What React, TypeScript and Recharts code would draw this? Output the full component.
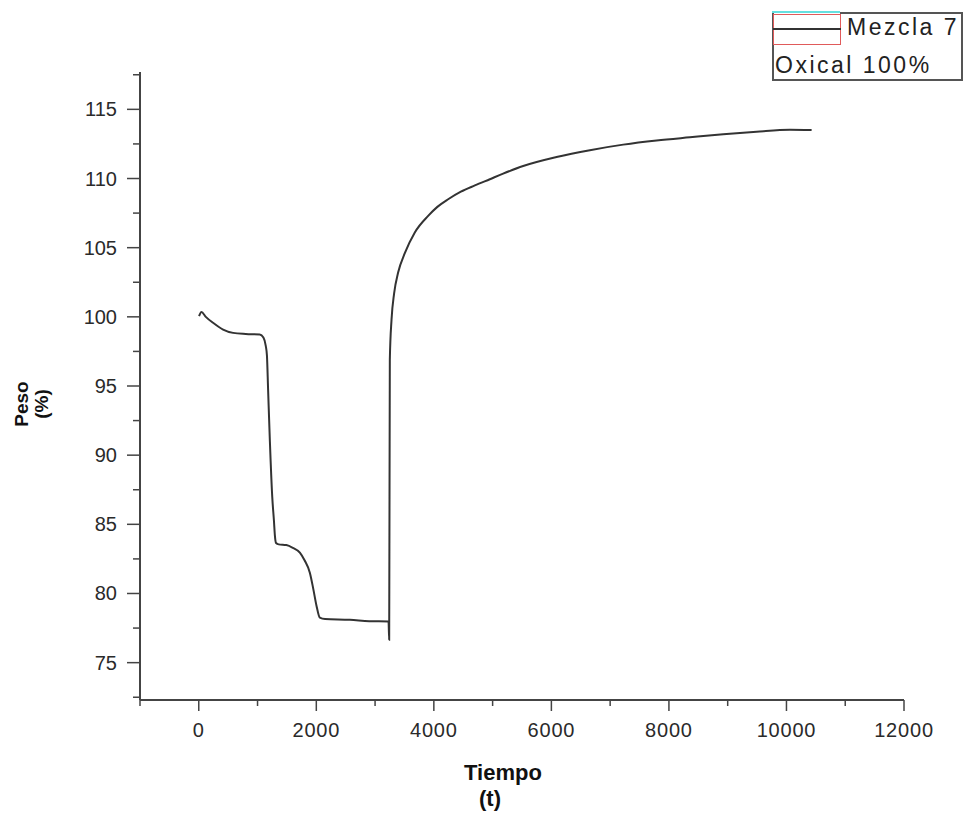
import { LineChart, Line, XAxis, YAxis, Legend, Label } from "recharts";

// tiempo (t) y peso (%)
const tiempo = [
	5, 45, 120, 243, 414, 584, 800, 1038, 1100, 1140, 1160, 1180, 1210, 1250, 1280, 1295,
	1315, 1360, 1490, 1600, 1720, 1800, 1890, 1950, 2004, 2060, 2150, 2570, 2900, 3229, 3240,
	3251, 3280, 3324, 3392, 3506, 3676, 3903, 4060, 4243, 4460, 4698, 4953, 5179, 5520, 6088,
	6655, 7222, 7790, 8357, 8924, 9492, 10059, 10428,
];
const peso = [
	100.05, 100.35, 100.0, 99.57, 99.08, 98.84, 98.76, 98.72, 98.5, 97.9, 97.2, 94.7, 91.0,
	87.0, 85.2, 84.2, 83.65, 83.55, 83.5, 83.3, 82.95, 82.4, 81.5, 80.3, 79.1, 78.25, 78.15,
	78.1, 78.0, 77.97, 76.65, 96.9, 99.8, 101.7, 103.2, 104.6, 106.1, 107.3, 107.95, 108.5,
	109.05, 109.5, 109.95, 110.35, 110.9, 111.55, 112.05, 112.45, 112.75, 112.98, 113.2,
	113.38, 113.52, 113.5,
];

const xTicks = [-1000, 0, 1000, 2000, 3000, 4000, 5000, 6000, 7000, 8000, 9000, 10000, 11000, 12000];
const yTicks = [72.5, 75, 77.5, 80, 82.5, 85, 87.5, 90, 92.5, 95, 97.5, 100, 102.5, 105, 107.5, 110, 112.5, 115, 117.5];
const legendLabels = ["Mezcla 7", "Oxical 100%"];

const data = tiempo.map((t, i) => ({ t, peso: peso[i] }));

const FONT = "'Liberation Sans', Arial, sans-serif";
const AXIS = "#444";

const YTick = (props: any) => {
	const { x, y, payload } = props;
	const major = payload.value % 5 === 0;
	return (
		<g>
			<line x1={x} x2={x - (major ? 13 : 7)} y1={y} y2={y} stroke={AXIS} strokeWidth={1.5} />
			{major && (
				<text x={x - 23} y={y} dy={7} textAnchor="end" fontFamily={FONT} fontSize={20} fill="#2a2a2a">
					{payload.value}
				</text>
			)}
		</g>
	);
};

const XTick = (props: any) => {
	const { x, y, payload } = props;
	const major = payload.value % 2000 === 0;
	return (
		<g>
			<line x1={x} x2={x} y1={y} y2={y + (major ? 11 : 6)} stroke={AXIS} strokeWidth={1.5} />
			{major && (
				<text x={x} y={y + 37} textAnchor="middle" fontFamily={FONT} fontSize={20} letterSpacing={0.8} fill="#2a2a2a">
					{payload.value}
				</text>
			)}
		</g>
	);
};

const LegendBox = () => (
	<div style={{ position: "relative", width: 194, height: 72, fontFamily: FONT, fontSize: 23, lineHeight: "23px", color: "#222" }}>
		<div style={{ position: "absolute", left: 1, top: 2, width: 191, height: 68, boxSizing: "border-box", borderLeft: "2px solid #555", borderRight: "2px solid #555", borderBottom: "2px solid #555" }} />
		<div style={{ position: "absolute", left: 69, top: 1, width: 123, height: 2, background: "#555" }} />
		<div style={{ position: "absolute", left: 1, top: 0, width: 68, height: 2, background: "#66e0e0" }} />
		<div style={{ position: "absolute", left: 2, top: 3, width: 68, height: 31, boxSizing: "border-box", border: "1.5px solid #e05a5a" }} />
		<div style={{ position: "absolute", left: 2, top: 17, width: 68, height: 2, background: "#333" }} />
		<div style={{ position: "absolute", left: 76, top: 5, letterSpacing: 2.5, whiteSpace: "nowrap" }}>{legendLabels[0]}</div>
		<div style={{ position: "absolute", left: 4, top: 43, letterSpacing: 2.5, whiteSpace: "nowrap" }}>{legendLabels[1]}</div>
	</div>
);

const XTitle = () => (
	<g fontFamily={FONT} fontWeight="bold" fontSize={22} fill="#111">
		<text x={503} y={780} textAnchor="middle">Tiempo</text>
		<text x={490} y={806} textAnchor="middle">(t)</text>
	</g>
);

const YTitle = () => (
	<g fontFamily={FONT} fontWeight="bold" fontSize={19} fill="#111">
		<text x={28} y={404} textAnchor="middle" transform="rotate(-90, 28, 404)">Peso</text>
		<text x={48} y={404} textAnchor="middle" transform="rotate(-90, 48, 404)">(%)</text>
	</g>
);

export default function App() {
	return (
		<div style={{ position: "absolute", left: 0, top: 0, background: "#fff" }}>
			<LineChart width={966} height={813} data={data} margin={{ top: 72, right: 62, bottom: 0, left: 0 }}>
				<XAxis
					type="number"
					dataKey="t"
					domain={[-1000, 12000]}
					ticks={xTicks}
					interval={0}
					height={113}
					tickLine={false}
					tickSize={0}
					tickMargin={0}
					axisLine={{ stroke: AXIS, strokeWidth: 2 }}
					tick={<XTick />}
				>
					<Label content={<XTitle />} />
				</XAxis>
				<YAxis
					type="number"
					domain={[72.3, 117.7]}
					ticks={yTicks}
					interval={0}
					width={140}
					tickLine={false}
					tickSize={0}
					tickMargin={0}
					axisLine={{ stroke: AXIS, strokeWidth: 2 }}
					tick={<YTick />}
				>
					<Label content={<YTitle />} />
				</YAxis>
				<Legend
					layout="vertical"
					align="center"
					verticalAlign="middle"
					wrapperStyle={{ left: 771, top: 11, width: 194, height: 72 }}
					content={<LegendBox />}
				/>
				<Line
					type="monotone"
					dataKey="peso"
					name={legendLabels[0]}
					stroke="#333"
					strokeWidth={2}
					dot={false}
					isAnimationActive={false}
				/>
			</LineChart>
		</div>
	);
}
